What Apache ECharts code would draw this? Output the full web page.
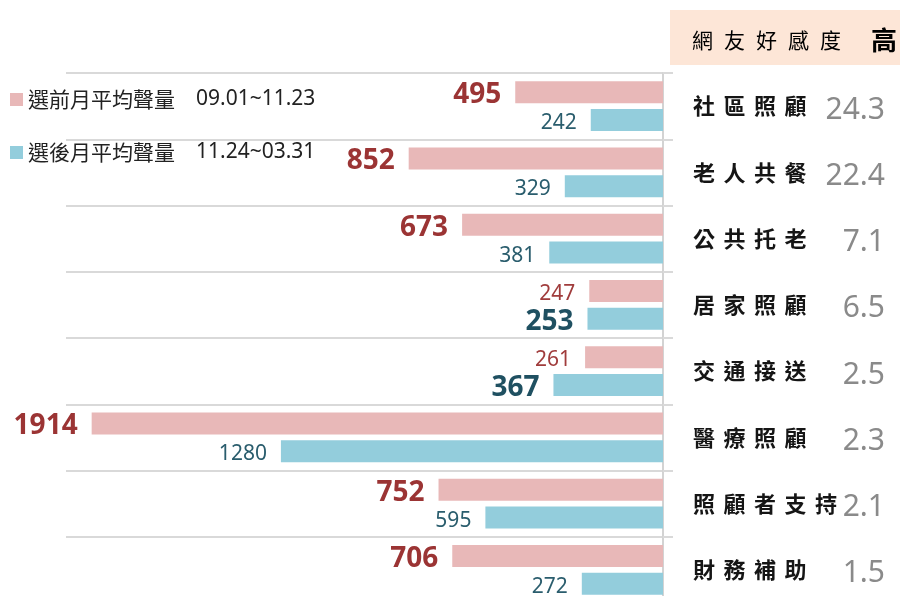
<!DOCTYPE html>
<html>
<head>
<meta charset="utf-8">
<script src="https://cdn.jsdelivr.net/npm/echarts@6/dist/echarts.min.js"></script>
<style>
html,body{margin:0;padding:0;background:#fff}
#main{width:900px;height:596px}
</style>
</head>
<body>
<div id="main"></div>
<script>
// 資料
const categories = ['社區照顧', '老人共餐', '公共托老', '居家照顧', '交通接送', '醫療照顧', '照顧者支持', '財務補助'];
const scores = ['24.3', '22.4', '7.1', '6.5', '2.5', '2.3', '2.1', '1.5'];
const beforeVals = [495, 852, 673, 247, 261, 1914, 752, 706];
const afterVals = [242, 329, 381, 253, 367, 1280, 595, 272];
const seriesNames = ['選前月平均聲量', '選後月平均聲量'];
const periods = ['09.01~11.23', '11.24~03.31'];

const numFont = 'Noto Sans';
const cjkFont = 'Noto Sans CJK TC';
const charW = 30.5;      // 分類名每字寬度
const labelTotal = 192;  // 分類名+分數 總寬

const chart = echarts.init(document.getElementById('main'), null, { renderer: 'canvas' });

// 兩個數字較大者用大字
function makeData(vals, other, big, small) {
  return vals.map((v, i) => ({
    value: v,
    label: v > other[i] ? big : small
  }));
}

const pinkBig = { fontSize: 28, fontWeight: 'bold', color: '#9b3434', fontFamily: numFont };
const pinkSmall = { fontSize: 21, color: '#a03c3c', fontFamily: numFont };
const blueBig = { fontSize: 28, fontWeight: 'bold', color: '#1f5061', fontFamily: numFont };
const blueSmall = { fontSize: 21, color: '#2a5d6d', fontFamily: numFont };

const option = {
  animation: false,
  backgroundColor: '#fff',
  graphic: [
    {
      type: 'rect',
      left: 670, top: 10,
      shape: { width: 230, height: 55 },
      style: { fill: '#fde6d7' }
    },
    {
      type: 'text',
      x: 692, y: 40,
      style: {
        text: '網友好感度'.split('').map(c => '{h|' + c + '}').join('') + '{g|高}',
        verticalAlign: 'middle',
        rich: {
          h: { width: 32, fontSize: 21, color: '#a55a1f', fontFamily: cjkFont },
          g: { fontSize: 26, fontWeight: 'bold', color: '#8a4612', fontFamily: cjkFont, padding: [0, 0, 0, 19] }
        }
      }
    }
  ],
  legend: {
    orient: 'vertical',
    left: 10,
    top: 89,
    padding: 0,
    icon: 'rect',
    itemWidth: 13,
    itemHeight: 13,
    itemGap: 32,
    data: seriesNames,
    formatter: n => '{a|' + n + '}{b|' + periods[seriesNames.indexOf(n)] + '}',
    textStyle: {
      rich: {
        a: { fontSize: 21, lineHeight: 24, color: '#222', fontFamily: cjkFont },
        b: { fontSize: 21, lineHeight: 24, color: '#222', fontFamily: numFont, padding: [0, 0, 0, 21] }
      }
    }
  },
  grid: {
    left: 66,
    right: 237,
    top: 73,
    height: 530,
    outerBoundsMode: 'none'
  },
  xAxis: {
    type: 'value',
    inverse: true,
    min: 0,
    max: 2000,
    show: false
  },
  yAxis: {
    type: 'category',
    data: categories,
    inverse: true,
    position: 'right',
    axisLine: { onZero: false, lineStyle: { color: '#d3d3d3', width: 2 } },
    axisTick: { show: true, length: 10, lineStyle: { color: '#d9d9d9', width: 2 } },
    splitLine: { show: true, lineStyle: { color: '#d9d9d9', width: 2 } },
    axisLabel: {
      margin: 30,
      formatter: (name, idx) => {
        const chars = name.split('');
        return chars.map(c => '{c|' + c + '}').join('') + '{s' + chars.length + '|' + scores[idx] + '}';
      },
      rich: {
        c: { width: charW, fontSize: 22, fontWeight: 'bold', color: '#151515', fontFamily: cjkFont },
        s4: { width: labelTotal - 4 * charW, align: 'right', fontSize: 30, color: '#8a8a8a', fontFamily: numFont, padding: [8, 0, 0, 0] },
        s5: { width: labelTotal - 5 * charW, align: 'right', fontSize: 30, color: '#8a8a8a', fontFamily: numFont, padding: [8, 0, 0, 0] }
      }
    }
  },
  series: [
    {
      name: seriesNames[0],
      type: 'bar',
      barWidth: 22,
      barGap: '27%',
      itemStyle: { color: '#e8b8b8' },
      label: { show: true, position: 'left', distance: 14, offset: [0, 3] },
      data: makeData(beforeVals, afterVals, pinkBig, pinkSmall)
    },
    {
      name: seriesNames[1],
      type: 'bar',
      barWidth: 22,
      barGap: '27%',
      itemStyle: { color: '#93cddc' },
      label: { show: true, position: 'left', distance: 14, offset: [0, 3] },
      data: makeData(afterVals, beforeVals, blueBig, blueSmall)
    }
  ]
};

chart.setOption(option);
</script>
</body>
</html>
